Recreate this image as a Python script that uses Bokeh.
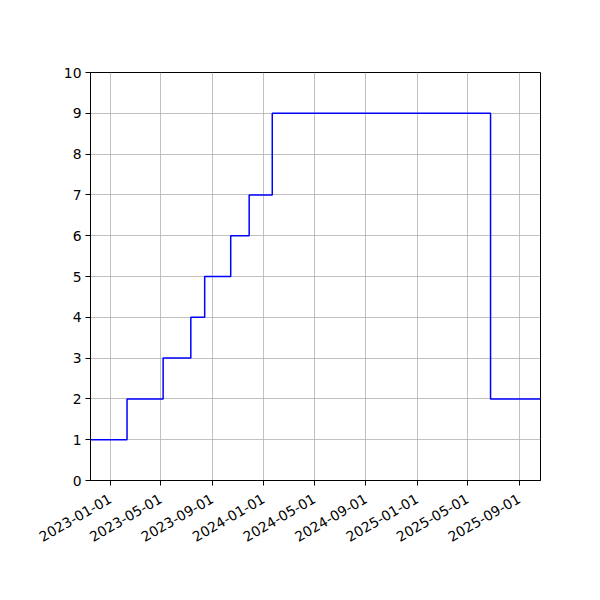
import datetime as dt
from math import pi
from bokeh.plotting import figure
from bokeh.models import Range1d, FixedTicker, DatetimeTickFormatter
from bokeh.embed import file_html
from bokeh.resources import INLINE

# data
step_dates = ["2022-11-15", "2023-02-10", "2023-05-07", "2023-07-12", "2023-08-14",
              "2023-10-15", "2023-11-28", "2024-01-22", "2025-06-25", "2025-10-22"]
step_values = [1, 2, 3, 4, 5, 6, 7, 9, 2, 2]
x_tick_labels = ["2023-01-01", "2023-05-01", "2023-09-01", "2024-01-01", "2024-05-01",
                 "2024-09-01", "2025-01-01", "2025-05-01", "2025-09-01"]
y_ticks = list(range(0, 11))
x_start, x_end = "2022-11-15", "2025-10-22"


def ms(s):
    d = dt.datetime.strptime(s, "%Y-%m-%d")
    return (d - dt.datetime(1970, 1, 1)).total_seconds() * 1000.0


xs = [dt.datetime.strptime(s, "%Y-%m-%d") for s in step_dates]

p = figure(x_axis_type="datetime", output_backend="svg", toolbar_location=None,
           frame_width=450, frame_height=408,
           min_border_left=90, min_border_right=52, min_border_top=72, min_border_bottom=112,
           x_range=Range1d(ms(x_start), ms(x_end)), y_range=Range1d(0, 10))

p.step(xs, step_values, mode="after", line_color="#0000ff", line_width=1.5)

fmt = "%Y-%m-%d"
p.xaxis.ticker = FixedTicker(ticks=[ms(s) for s in x_tick_labels])
p.xaxis.formatter = DatetimeTickFormatter(milliseconds=fmt, seconds=fmt, minsec=fmt, minutes=fmt,
                                          hourmin=fmt, hours=fmt, days=fmt, months=fmt, years=fmt)
p.xaxis.major_label_orientation = pi / 6
p.yaxis.ticker = FixedTicker(ticks=y_ticks)

for ax in (p.xaxis[0], p.yaxis[0]):
    ax.major_label_text_font = "DejaVu Sans"
    ax.major_label_text_font_size = "13.9px"
    ax.major_label_text_color = "black"
    ax.axis_line_color = "black"
    ax.major_tick_line_color = "black"
    ax.major_tick_out = 5
    ax.major_tick_in = 0
    ax.minor_tick_line_color = None
    ax.major_label_standoff = 4

p.xaxis.major_label_standoff = 12

p.grid.grid_line_color = "#b0b0b0"
p.grid.grid_line_width = 0.8
p.outline_line_color = "black"
p.outline_line_width = 1
p.background_fill_color = "white"
p.border_fill_color = "white"

open("out.html", "w").write(file_html(p, INLINE))
